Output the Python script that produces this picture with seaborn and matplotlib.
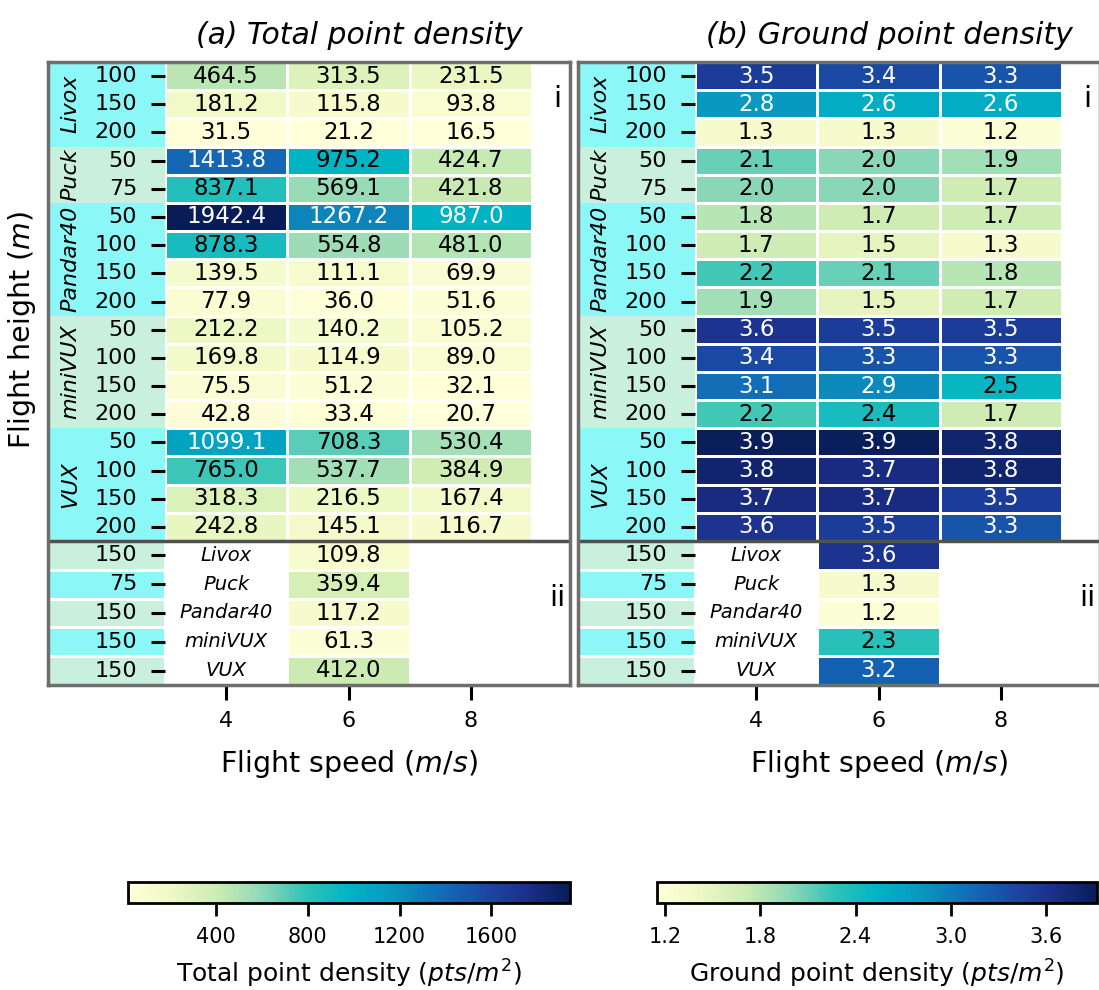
import numpy as np
import pandas as pd
import matplotlib
matplotlib.use("Agg")
import matplotlib.pyplot as plt
import seaborn as sns
from matplotlib.colors import ListedColormap, Normalize, LinearSegmentedColormap
from matplotlib.cm import ScalarMappable

# ---------------- data ----------------
speeds = [4, 6, 8]
sensors = ["Livox", "Puck", "Pandar40", "miniVUX", "VUX"]
heights_i = {
    "Livox": [100, 150, 200],
    "Puck": [50, 75],
    "Pandar40": [50, 100, 150, 200],
    "miniVUX": [50, 100, 150, 200],
    "VUX": [50, 100, 150, 200],
}
total_livox = [[464.5, 313.5, 231.5], [181.2, 115.8, 93.8], [31.5, 21.2, 16.5]]
total_puck = [[1413.8, 975.2, 424.7], [837.1, 569.1, 421.8]]
total_pandar = [[1942.4, 1267.2, 987.0], [878.3, 554.8, 481.0], [139.5, 111.1, 69.9], [77.9, 36.0, 51.6]]
total_minivux = [[212.2, 140.2, 105.2], [169.8, 114.9, 89.0], [75.5, 51.2, 32.1], [42.8, 33.4, 20.7]]
total_vux = [[1099.1, 708.3, 530.4], [765.0, 537.7, 384.9], [318.3, 216.5, 167.4], [242.8, 145.1, 116.7]]

ground_livox = [[3.5, 3.4, 3.3], [2.8, 2.6, 2.6], [1.3, 1.3, 1.2]]
ground_puck = [[2.1, 2.0, 1.9], [2.0, 2.0, 1.7]]
ground_pandar = [[1.8, 1.7, 1.7], [1.7, 1.5, 1.3], [2.2, 2.1, 1.8], [1.9, 1.5, 1.7]]
ground_minivux = [[3.6, 3.5, 3.5], [3.4, 3.3, 3.3], [3.1, 2.9, 2.5], [2.2, 2.4, 1.7]]
ground_vux = [[3.9, 3.9, 3.8], [3.8, 3.7, 3.8], [3.7, 3.7, 3.5], [3.6, 3.5, 3.3]]

# section ii: single flight speed (6 m/s)
heights_ii = [150, 75, 150, 150, 150]
speed_ii = 6
total_ii = [109.8, 359.4, 117.2, 61.3, 412.0]
ground_ii = [3.6, 1.3, 1.2, 2.3, 3.2]

total_ticks = [400, 800, 1200, 1600]
ground_ticks = [1.2, 1.8, 2.4, 3.0, 3.6]
ground_range = (1.15, 3.92)

# ---------------- style ----------------
W, H = 1099, 990
fig = plt.figure(figsize=(W / 100, H / 100), dpi=100)
plt.rcParams["font.family"] = ["DejaVu Sans"]
plt.rcParams["mathtext.fontset"] = "dejavusans"


def ax_px(x0, y0, w, h, **kw):
    return fig.add_axes([x0 / W, 1 - (y0 + h) / H, w / W, h / H], **kw)


cyan = "#8cf7f7"
lgreen = "#c8f0dc"
band_cmap = ListedColormap([cyan, lgreen])
cmap = LinearSegmentedColormap.from_list("ylgnbu_vivid", [
    (0.00, "#ffffd9"), (0.10, "#eef8c4"), (0.20, "#cdecb2"), (0.30, "#90d8b8"),
    (0.40, "#30c4b8"), (0.50, "#00b4c4"), (0.60, "#0898c0"), (0.70, "#1070b8"),
    (0.80, "#1a4ca6"), (0.90, "#1c2f8c"), (1.00, "#081d58")])

panels = [
    dict(dx=0, title="(a) Total point density",
         blocks=[total_livox, total_puck, total_pandar, total_minivux, total_vux],
         ii=total_ii, ticks=total_ticks, cbar_label=r"Total point density ($pts/m^2$)",
         cbar_x=128, cbar_w=442),
    dict(dx=530, title="(b) Ground point density",
         blocks=[ground_livox, ground_puck, ground_pandar, ground_minivux, ground_vux],
         ii=ground_ii, ticks=ground_ticks, cbar_label=r"Ground point density ($pts/m^2$)",
         cbar_x=657, cbar_w=440),
]

FX, FY, FW = 48, 62, 522
BAND_W = 117
HM_W = 367
H_I, H_II = 479, 144
CELL_FS = 16.5
TICK_FS = 16


def recolor(ax, norm):
    for t in ax.texts:
        try:
            v = float(t.get_text())
        except ValueError:
            continue
        t.set_color("white" if norm(v) >= 0.5 else "black")


for p in panels:
    dx = p["dx"]
    rows_i, ylabels_i, band_i = [], [], []
    for gi, s in enumerate(sensors):
        for h, vals in zip(heights_i[s], p["blocks"][gi]):
            rows_i.append(vals)
            ylabels_i.append(str(h))
            band_i.append(gi % 2)
    df_i = pd.DataFrame(rows_i, columns=speeds)
    if dx == 0:
        vmin, vmax = df_i.values.min(), df_i.values.max()
    else:
        vmin, vmax = ground_range
    norm = Normalize(vmin, vmax)

    # --- colored band (section i) ---
    axb = ax_px(FX + dx, FY, BAND_W, H_I)
    sns.heatmap(pd.DataFrame({"b": band_i}), cmap=band_cmap, vmin=0, vmax=1,
                cbar=False, ax=axb, xticklabels=False, yticklabels=False)
    start = 0
    for gi, s in enumerate(sensors):
        n = len(heights_i[s])
        axb.text(0.19, start + n / 2, s, rotation=90, fontstyle="italic",
                 fontsize=16, ha="center", va="center")
        start += n
    axb.set_xlabel(""); axb.set_ylabel("")

    # --- colored band (section ii) ---
    axb2 = ax_px(FX + dx, FY + H_I, BAND_W, H_II)
    sns.heatmap(pd.DataFrame({"b": [(i + 1) % 2 for i in range(len(heights_ii))]}),
                cmap=band_cmap, vmin=0, vmax=1, cbar=False, ax=axb2,
                xticklabels=False, yticklabels=False, linewidths=1, linecolor="white")
    axb2.set_xlabel(""); axb2.set_ylabel("")

    # --- main heatmap section i ---
    axh = ax_px(FX + dx + BAND_W, FY, HM_W, H_I)
    sns.heatmap(df_i, cmap=cmap, vmin=vmin, vmax=vmax, annot=True, fmt=".1f",
                annot_kws={"fontsize": CELL_FS}, linewidths=2, linecolor="white",
                cbar=False, ax=axh, xticklabels=False, yticklabels=ylabels_i)
    recolor(axh, norm)
    axh.tick_params(axis="y", labelsize=TICK_FS, length=10, width=2.2, pad=10, rotation=0)
    axh.tick_params(axis="x", length=0)
    axh.set_title(p["title"], fontstyle="italic", fontsize=21.5, pad=13, x=0.53)

    # --- section ii heatmap ---
    df_ii = pd.DataFrame({c: [np.nan] * len(heights_ii) for c in speeds})
    df_ii[speed_ii] = p["ii"]
    axh2 = ax_px(FX + dx + BAND_W, FY + H_I, HM_W, H_II)
    sns.heatmap(df_ii, cmap=cmap, vmin=vmin, vmax=vmax, annot=True, fmt=".1f",
                annot_kws={"fontsize": CELL_FS}, linewidths=2, linecolor="white",
                cbar=False, ax=axh2, xticklabels=speeds,
                yticklabels=[str(h) for h in heights_ii])
    recolor(axh2, norm)
    for i, s in enumerate(sensors):
        axh2.text(0.5, i + 0.5, s, fontstyle="italic", fontsize=14,
                  ha="center", va="center")
    axh2.tick_params(axis="y", labelsize=TICK_FS, length=10, width=2.2, pad=10, rotation=0)
    axh2.tick_params(axis="x", labelsize=TICK_FS, length=11, width=2.2, pad=8, rotation=0)
    axh2.set_xlabel(r"Flight speed ($m/s$)", fontsize=20.5, labelpad=12)
    axh2.set_ylabel("")

    # --- frame ---
    axf = ax_px(FX + dx, FY, FW, H_I + H_II)
    axf.set_facecolor("none")
    axf.set_xlim(0, 1); axf.set_ylim(0, 1)
    axf.set_xticks([]); axf.set_yticks([])
    for sp in axf.spines.values():
        sp.set_color("#6e6e6e"); sp.set_linewidth(2.5)
    axf.axhline(H_II / (H_I + H_II), color="#505050", lw=2.5)
    axf.text(0.975, 0.94, "i", fontsize=21, ha="center", va="center")
    axf.text(0.975, 0.14, "ii", fontsize=21, ha="center", va="center")

    # --- colorbar ---
    axc = ax_px(p["cbar_x"], 882, p["cbar_w"], 21)
    sm = ScalarMappable(norm=norm, cmap=cmap)
    cb = fig.colorbar(sm, cax=axc, orientation="horizontal", ticks=p["ticks"])
    cb.outline.set_linewidth(2)
    cb.ax.tick_params(labelsize=15, length=9, width=2, pad=8)
    cb.ax.set_xticklabels([f"{t:g}" if dx == 0 else f"{t:.1f}" for t in p["ticks"]])
    cb.set_label(p["cbar_label"], fontsize=18, labelpad=8)

fig.text(22 / W, 1 - 330 / H, r"Flight height ($m$)", rotation=90, fontsize=20.5,
         ha="center", va="center")

fig.savefig("out.png", dpi=100)
